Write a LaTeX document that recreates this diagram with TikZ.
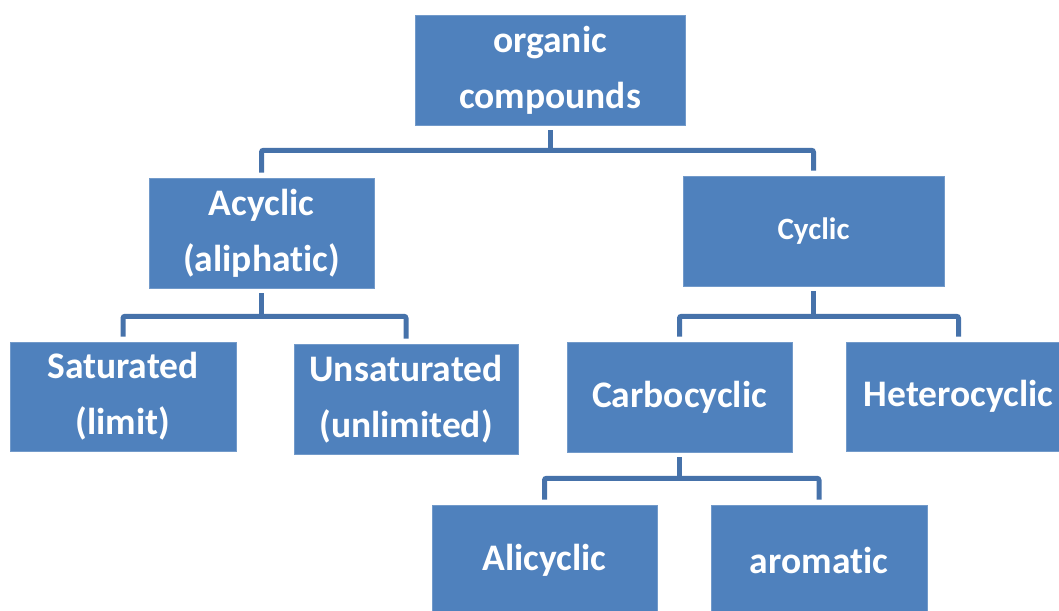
\documentclass[tikz,border=0pt]{standalone}
\usepackage{fontspec}
\setmainfont{Carlito}[Ligatures={NoCommon,NoContextual}]
\definecolor{boxblue}{HTML}{4F81BD}
\definecolor{lineblue}{HTML}{4672AA}
\begin{document}
\begin{tikzpicture}[x=1pt,y=-1pt,
  box/.style={fill=boxblue,draw=boxblue!80!white,line width=0.6pt,inner sep=0pt,
    text=white,align=center,font=\fontsize{37.5}{56}\selectfont\bfseries},
  conn/.style={draw=lineblue,line width=5pt,rounded corners=2pt}]
\useasboundingbox (0,0) rectangle (1059,610);
\clip (0,0) rectangle (1059,610);
\node[box,minimum width=270pt,minimum height=110pt] (org) at (550,70) {organic\\compounds};
\node[box,minimum width=225pt,minimum height=110pt] (acy) at (261.5,233) {Acyclic\\(aliphatic)};
\node[box,minimum width=261pt,minimum height=110pt,font=\fontsize{31}{45}\selectfont\bfseries] (cyc) at (813.5,231) {Cyclic};
\node[box,minimum width=226pt,minimum height=109pt] (sat) at (123,396.5) {Saturated\\(limit)};
\node[box,minimum width=224pt,minimum height=110pt] (uns) at (406,399) {Unsaturated\\(unlimited)};
\node[box,minimum width=225pt,minimum height=110pt] (carb) at (679.5,397) {Carbocyclic};
\node[box,minimum width=225pt,minimum height=109pt] (het) at (958.5,396.5) {Heterocyclic};
\node[box,minimum width=225pt,minimum height=110pt] (ali) at (544.5,560) {Alicyclic};
\node[box,minimum width=216pt,minimum height=110pt] (aro) at (819,560) {aromatic};
% connectors
\coordinate (j1) at ([yshift=-25pt]org.south);
\draw[conn] ([yshift=-5pt]org.south) -- (j1);
\draw[conn] ([yshift=5pt]acy.north) |- (j1) -| ([yshift=5pt]cyc.north);
\coordinate (j2) at ([yshift=-28pt]acy.south);
\draw[conn] ([yshift=-5pt]acy.south) -- (j2);
\draw[conn] ([yshift=5pt]sat.north) |- (j2) -| ([yshift=5pt]uns.north);
\coordinate (j3) at ([yshift=-30pt]cyc.south);
\draw[conn] ([yshift=-5pt]cyc.south) -- (j3);
\draw[conn] ([yshift=5pt]carb.north) |- (j3) -| ([yshift=5pt]het.north);
\coordinate (j4) at ([yshift=-26pt]carb.south);
\draw[conn] ([yshift=-5pt]carb.south) -- (j4);
\draw[conn] ([yshift=5pt]ali.north) |- (j4) -| ([yshift=5pt]aro.north);
\end{tikzpicture}
\end{document}
